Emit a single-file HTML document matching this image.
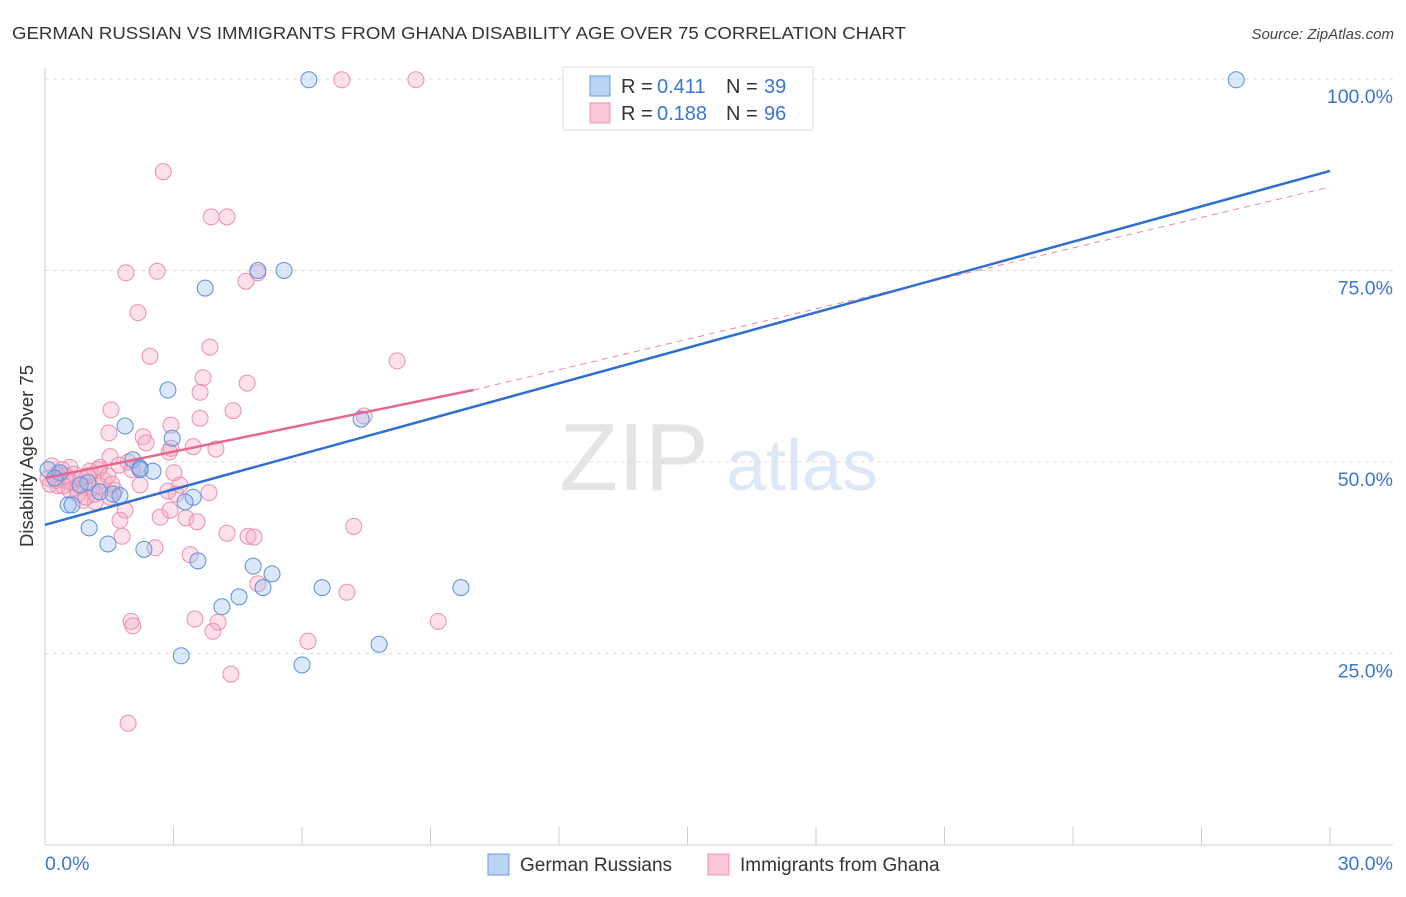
<!DOCTYPE html>
<html><head><meta charset="utf-8"><style>
body{margin:0;background:#fff;font-family:"Liberation Sans",sans-serif;}
svg text{font-family:"Liberation Sans",sans-serif;}
</style></head><body>
<svg id="chart" width="1406" height="892" viewBox="0 0 1406 892" xmlns="http://www.w3.org/2000/svg">
<text x="12" y="39" font-size="17.5" fill="#333" textLength="894" lengthAdjust="spacingAndGlyphs">GERMAN RUSSIAN VS IMMIGRANTS FROM GHANA DISABILITY AGE OVER 75 CORRELATION CHART</text>
<text x="1394" y="39" font-size="15" fill="#444" font-style="italic" text-anchor="end">Source: ZipAtlas.com</text>
<g>
<text x="634" y="490" font-size="96" fill="#e4e4e4" font-family="Liberation Serif" text-anchor="middle">ZIP</text>
<text x="802" y="490" font-size="72" fill="#dce8f7" text-anchor="middle">atlas</text>
</g>
<g id="grid"></g>
<g id="axes"></g>
<g id="pts"></g>
<g id="lines"></g>
<text transform="translate(33,456) rotate(-90)" font-size="18.5" fill="#333" text-anchor="middle">Disability Age Over 75</text>
<g>
<rect x="563" y="67" width="250" height="63" fill="#fff" stroke="#ddd"/>
<rect x="590" y="76" width="20" height="20" fill="#b8d3f3" stroke="#6a9ae0"/>
<rect x="590" y="103" width="20" height="20" fill="#f9c6d6" stroke="#ea94b0"/>
<text x="621" y="93" font-size="20" fill="#333">R =</text>
<text x="657" y="93" font-size="20" fill="#3a75d0">0.411</text>
<text x="726" y="93" font-size="20" fill="#333">N =</text>
<text x="764" y="93" font-size="20" fill="#3a75d0">39</text>
<text x="621" y="120" font-size="20" fill="#333">R =</text>
<text x="657" y="120" font-size="20" fill="#3a75d0">0.188</text>
<text x="726" y="120" font-size="20" fill="#333">N =</text>
<text x="764" y="120" font-size="20" fill="#3a75d0">96</text>
</g>
<g>
<rect x="488" y="854" width="21" height="21" fill="#b8d3f3" stroke="#6a9ae0"/>
<text x="520" y="871" font-size="19" fill="#333">German Russians</text>
<rect x="708" y="854" width="21" height="21" fill="#f9c6d6" stroke="#ea94b0"/>
<text x="740" y="871" font-size="19" fill="#333">Immigrants from Ghana</text>
</g>
</svg>
<script>
const xTicks=[0,3,6,9,12,15,18,21,24,27,30];
const yTicks=[25,50,75,100];
const yTickLabels=["25.0%","50.0%","75.0%","100.0%"];
const xEndLabels=["0.0%","30.0%"];
const blueX=[6.16,27.81,4.97,5.58,3.74,2.87,1.87,2.97,7.38,2.05,2.22,2.52,0.07,0.35,1.00,1.28,1.59,1.75,3.46,3.27,0.54,0.63,1.03,1.47,2.31,3.57,4.86,5.30,5.09,6.47,9.71,4.53,4.13,7.80,3.18,6.00,0.23,0.82,2.22];
const blueY=[99.9,99.9,75.0,75.0,72.7,59.4,54.7,53.1,55.6,50.3,49.2,48.8,49.0,48.6,47.3,46.1,45.8,45.6,45.4,44.8,44.4,44.4,41.4,39.3,38.6,37.1,36.4,35.4,33.6,33.6,33.6,32.4,31.1,26.2,24.7,23.5,47.9,47.0,49.0];
const pinkX=[6.93,8.66,2.76,3.88,4.25,1.89,2.62,4.69,4.97,2.17,2.45,3.85,8.22,3.69,4.72,3.62,1.54,4.39,7.45,3.62,2.94,1.49,2.29,2.36,2.94,3.46,3.99,2.90,1.52,1.94,1.73,2.17,3.01,1.28,1.24,1.05,0.58,0.40,0.16,0.28,0.07,0.12,0.30,0.49,0.63,0.72,0.93,1.10,1.38,1.47,1.63,1.87,2.03,3.15,3.83,3.06,0.89,1.17,1.52,1.75,2.69,2.92,3.29,3.55,1.80,2.57,3.39,4.25,4.74,4.88,7.21,4.97,7.05,3.50,4.04,3.92,2.01,2.05,6.14,9.18,4.34,1.94,0.58,0.77,0.96,1.17,1.28,0.42,0.26,0.49,0.68,0.86,1.00,2.22,1.56,2.87];
const pinkY=[99.9,99.9,87.9,82.0,82.0,74.7,74.9,73.6,74.7,69.5,63.8,65.0,63.2,61.0,60.3,59.1,56.8,56.7,56.0,55.7,54.8,53.8,53.3,52.5,51.8,52.0,51.7,51.3,50.7,50.0,49.6,49.5,48.6,49.3,49.0,48.8,49.3,49.0,49.5,48.4,47.9,47.1,46.9,47.6,47.3,46.6,46.7,46.6,47.6,48.2,46.3,43.7,49.0,47.0,46.0,45.8,45.0,44.8,45.4,42.4,42.8,43.7,42.7,42.2,40.3,38.8,37.9,40.7,40.3,40.2,41.6,34.1,33.0,29.5,29.1,27.9,29.2,28.6,26.6,29.2,22.3,15.9,46.3,45.8,45.4,45.8,46.9,46.9,47.6,48.2,48.4,47.9,48.2,47.0,47.1,46.2];
const blueTrend=[[0,41.8],[30,88.0]];
const pinkTrend=[[0,47.9],[10,59.4]];
const pinkTrendExt=[[10,59.4],[30,85.9]];

const NS="http://www.w3.org/2000/svg";
const X=v=>45+v*(1330-45)/30;
const Y=v=>845-v*7.66;
function mk(tag,attrs,parent){const e=document.createElementNS(NS,tag);for(const k in attrs)e.setAttribute(k,attrs[k]);document.getElementById(parent).appendChild(e);return e;}
yTicks.forEach((t,i)=>{
  const g=mk('line',{x1:45,x2:1393,y1:Y(t),y2:Y(t),stroke:'#ddd','stroke-dasharray':'4,4'},'grid');
  
  
  const l=mk('text',{x:1393,y:Y(t)+24,'font-size':19.5,fill:'#3a75d0','text-anchor':'end'},'grid');
  l.textContent=yTickLabels[i];
  
  
});
const ax=mk('line',{x1:45,x2:1393,y1:845,y2:845,stroke:'#ccc'},'axes');


const ay=mk('line',{x1:45,x2:45,y1:68,y2:845,stroke:'#ccc'},'axes');


xTicks.forEach(t=>{
  const e=mk('line',{x1:X(t),x2:X(t),y1:827,y2:845,stroke:'#ccc'},'axes');
  
  
});
const xl0=mk('text',{x:45,y:870,'font-size':19.5,fill:'#3a75d0'},'axes');xl0.textContent=xEndLabels[0];


const xl1=mk('text',{x:1393,y:870,'font-size':19.5,fill:'#3a75d0','text-anchor':'end'},'axes');xl1.textContent=xEndLabels[1];


pinkX.forEach((v,i)=>{
  const c=mk('circle',{cx:X(v),cy:Y(pinkY[i]),r:8,fill:'rgba(245,170,195,0.35)',stroke:'#e98fae','stroke-width':1},'pts');
  
  
});
blueX.forEach((v,i)=>{
  const c=mk('circle',{cx:X(v),cy:Y(blueY[i]),r:8,fill:'rgba(150,190,240,0.35)',stroke:'#5a8fdc','stroke-width':1},'pts');
  
  
});
const pe=mk('line',{x1:X(pinkTrendExt[0][0]),y1:Y(pinkTrendExt[0][1]),x2:X(pinkTrendExt[1][0]),y2:Y(pinkTrendExt[1][1]),stroke:'#e889a8','stroke-width':1,'stroke-dasharray':'6,5'},'lines');


const bl=mk('line',{x1:X(blueTrend[0][0]),y1:Y(blueTrend[0][1]),x2:X(blueTrend[1][0]),y2:Y(blueTrend[1][1]),stroke:'#2f6fd0','stroke-width':2.5},'lines');


const pl=mk('line',{x1:X(pinkTrend[0][0]),y1:Y(pinkTrend[0][1]),x2:X(pinkTrend[1][0]),y2:Y(pinkTrend[1][1]),stroke:'#e56690','stroke-width':2.5},'lines');


</script>
</body></html>
